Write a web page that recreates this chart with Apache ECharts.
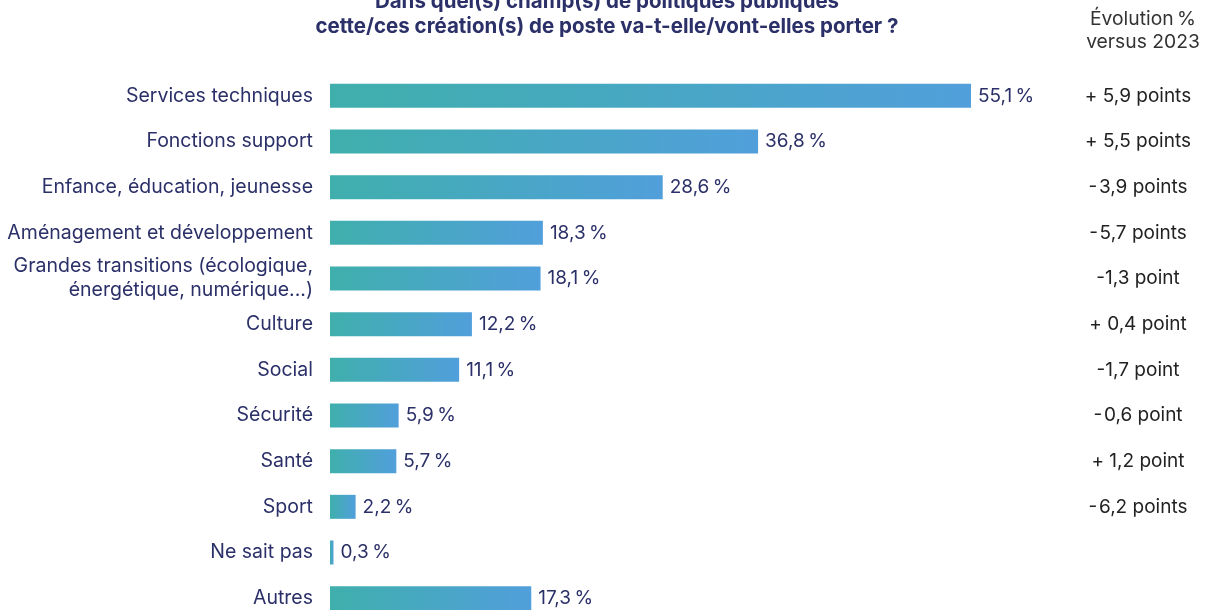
<!DOCTYPE html>
<html>
<head>
<meta charset="utf-8">
<script src="https://cdn.jsdelivr.net/npm/echarts@6/dist/echarts.min.js"></script>
<style>
  html, body { margin: 0; padding: 0; background: #fff; }
  #chart { width: 1208px; height: 610px; }
</style>
</head>
<body>
<div id="chart"></div>
<script>
// catégories, du haut vers le bas
const categories = [
  "Services techniques",
  "Fonctions support",
  "Enfance, éducation, jeunesse",
  "Aménagement et développement",
  "Grandes transitions (écologique,\nénergétique, numérique...)",
  "Culture",
  "Social",
  "Sécurité",
  "Santé",
  "Sport",
  "Ne sait pas",
  "Autres"
];
const values = [55.1, 36.8, 28.6, 18.3, 18.1, 12.2, 11.1, 5.9, 5.7, 2.2, 0.3, 17.3];
const evolutions = [
  "+ 5,9 points",
  "+ 5,5 points",
  "-\u200A3,9 points",
  "-\u200A5,7 points",
  "-1,3 point",
  "+ 0,4 point",
  "-1,7 point",
  "-\u200A0,6 point",
  "+ 1,2 point",
  "-\u200A6,2 points",
  "",
  ""
];

const navy = "#2B3068";
const font = "Inter, 'Noto Sans', sans-serif";

const chart = echarts.init(document.getElementById("chart"));
chart.setOption({
  animation: false,
  textStyle: { fontFamily: font },
  title: [
    {
      text: "Dans quel(s) champ(s) de politiques publiques\ncette/ces création(s) de poste va-t-elle/vont-elles porter ?",
      left: 602,
      top: -16,
      textAlign: "center",
      textStyle: { fontFamily: font, fontSize: 20.5, fontWeight: "bold", color: navy, lineHeight: 25 }
    },
    {
      text: "Évolution\u2009%\nversus 2023",
      left: 1138,
      top: 3,
      textAlign: "center",
      textStyle: { fontFamily: font, fontSize: 19.3, fontWeight: "normal", color: "#333", lineHeight: 23 }
    }
  ],
  grid: { left: 330, top: 73, width: 698, height: 548, outerBoundsMode: "none" },
  xAxis: {
    type: "value",
    min: 0,
    max: 60,
    show: false
  },
  yAxis: [
    {
      type: "category",
      data: categories,
      inverse: true,
      axisLine: { show: false },
      axisTick: { show: false },
      axisLabel: {
        margin: 17,
        fontSize: 19.5,
        color: navy,
        fontFamily: font,
        lineHeight: 24,
        align: "right"
      }
    },
    {
      type: "category",
      data: evolutions,
      inverse: true,
      position: "right",
      axisLine: { show: false },
      axisTick: { show: false },
      axisLabel: {
        margin: 110,
        align: "center",
        fontSize: 19,
        color: "#222",
        fontFamily: font
      }
    }
  ],
  series: [
    {
      type: "bar",
      data: values,
      barWidth: 24,
      itemStyle: {
        color: new echarts.graphic.LinearGradient(0, 0, 1, 0, [
          { offset: 0, color: "#3FAFAC" },
          { offset: 1, color: "#519FDB" }
        ])
      },
      label: {
        show: true,
        position: "right",
        distance: 7,
        fontSize: 19,
        color: navy,
        fontFamily: font,
        formatter: p => p.value.toFixed(1).replace(".", ",") + "\u2009%"
      }
    }
  ]
});
</script>
</body>
</html>
